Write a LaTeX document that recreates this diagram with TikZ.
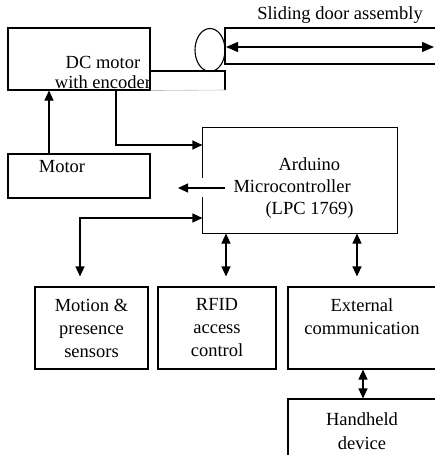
\documentclass[tikz,border=0pt]{standalone}
\usepackage{fontspec}
\setmainfont{Liberation Serif}
\usetikzlibrary{arrows.meta,shapes.geometric}
\tikzset{
  blk/.style={draw, rectangle, inner sep=0pt},
  txt/.style={align=center, font=\fontsize{18.5}{23}\selectfont, inner sep=0pt},
  tip/.style={-{Triangle[length=10pt,width=9pt]}},
  dtip/.style={{Triangle[length=10pt,width=9pt]}-{Triangle[length=10pt,width=9pt]}},
}
\begin{document}
\begin{tikzpicture}[x=1pt,y=-1pt,line width=1.1pt]
\useasboundingbox (0,0) rectangle (435,455);
\node[blk, minimum width=142pt, minimum height=62pt] (dcm) at (79,59) {};
\node[txt, font=\fontsize{18.5}{20}\selectfont] (dcmtext) at (103,72) {DC motor\\with encoder};
\node[blk, minimum width=142pt, minimum height=44pt] (motor) at (79,176) {};
\node[txt] (motortext) at (62,167) {Motor};

\draw (dcm.east |- 0,71) -- (225,71) -- (225,90);
\draw[gray!50, line width=0.6pt] (225,90) -- (dcm.south east);
\node[draw, ellipse, minimum width=30pt, minimum height=43pt, inner sep=0pt] (pulley) at (210,50) {};
\draw (435,28) -- (225,28) -- (225,64) -- (435,64);
\coordinate (doorl) at (226,47);
\coordinate (doorr) at (434,47);
\draw[{Triangle[length=12pt,width=10pt]}-{Triangle[length=12pt,width=10pt]}] (doorl) -- (doorr);
\node[txt] (doortext) at (340,15) {Sliding door assembly};

\node[minimum width=194pt, minimum height=105pt, inner sep=0pt] (mcu) at (300,180.5) {};
\draw ([yshift=-16.5pt]mcu.west) -- (mcu.south west) -- (mcu.south east)
  -- (mcu.north east) -- (mcu.north west) -- ([yshift=2.5pt]mcu.west);
\node[txt, align=left, anchor=west, font=\fontsize{18.5}{22}\selectfont] (mcutext) at (233,188)
  {\hspace*{45pt}Arduino\\Microcontroller\\\hspace*{32pt}(LPC 1769)};
\coordinate (outs) at (225,188);
\coordinate (oute) at (178,188);
\draw[tip] (outs) -- (oute);

\node[blk, txt, minimum width=113pt, minimum height=82pt] (motion) at (91.5,328) {Motion \&\\presence\\sensors};
\node[blk, txt, minimum width=118pt, minimum height=82pt] (rfid) at (217,328) {RFID\\access\\control};
\node[blk, txt, minimum width=148pt, minimum height=82pt] (ext) at (362,328) {External\\communication\\\mbox{}};
\node[blk, txt, minimum width=148pt, minimum height=64pt, font=\fontsize{18.5}{24}\selectfont] (hand) at (362,431) {Handheld\\device};

\draw[tip] ([xshift=-30pt]motor.north) -- ([xshift=-30pt]dcm.south);
\draw[tip] ([xshift=37pt]dcm.south) |- ([yshift=35.5pt]mcu.west);
\draw[dtip, shorten >=10pt] ([yshift=-37.5pt]mcu.west) -| ([xshift=-11.5pt]motion.north);
\draw[dtip, shorten >=10pt] ([xshift=9pt]rfid.north |- mcu.south) -- ([xshift=9pt]rfid.north);
\draw[dtip, shorten >=10pt] ([xshift=-5pt]ext.north |- mcu.south) -- ([xshift=-5pt]ext.north);
\draw[dtip] ([xshift=1pt]ext.south) -- ([xshift=1pt]hand.north);
\end{tikzpicture}
\end{document}
